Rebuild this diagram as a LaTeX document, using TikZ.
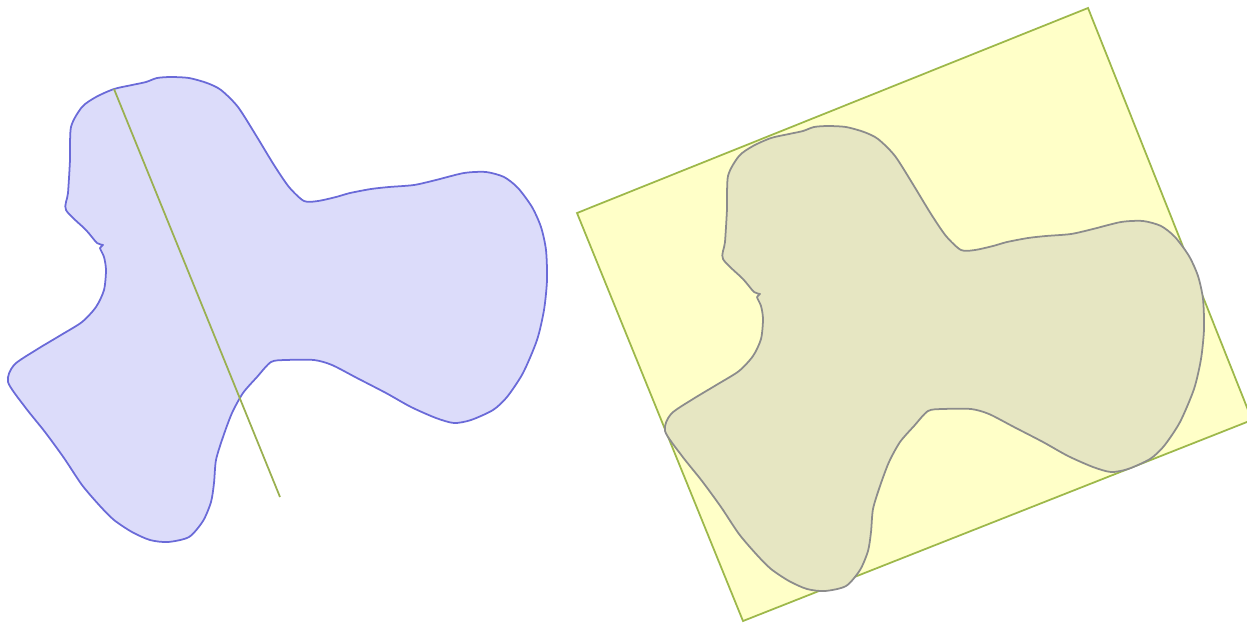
\documentclass[tikz,border=0pt]{standalone}
\definecolor{blobfillA}{HTML}{DCDCFA}
\definecolor{blobdrawA}{HTML}{6A6AD8}
\definecolor{rectfill}{HTML}{FFFFC8}
\definecolor{rectdraw}{HTML}{9DB84A}
\definecolor{blobfillB}{HTML}{E6E6C2}
\definecolor{blobdrawB}{HTML}{8C8C8C}
\definecolor{axisline}{HTML}{9AB050}
\tikzset{
  blobA/.style={fill=blobfillA, draw=blobdrawA, line width=1pt, line join=round},
  blobB/.style={fill=blobfillB, draw=blobdrawB, line width=1pt, line join=round},
  boxstyle/.style={fill=rectfill, draw=rectdraw, line width=1pt, line join=miter},
  axisstyle/.style={draw=axisline, line width=1pt}
}
\newcommand{\drawblob}[1]{%
  \path[#1] plot[smooth cycle, tension=0.45] coordinates {
    (114,89) (132,85) (146,82) (157,78) (171,77) (189,78) (207,83) (221,90)
    (238,107) (257,137) (274,165) (289,187) (304,201) (318,201)
    (336,197) (350,193) (371,189) (389,187) (414,185) (436,180) (464,173)
    (486,172) (504,177) (518,188) (532,207) (541,227) (546,250) (547,280)
    (544,310) (537,340) (523,373) (507,397) (493,410) (471,420)
    (454,423) (436,418) (411,407) (386,393) (357,378) (332,365) (314,360)
    (286,360) (271,362) (257,377) (243,393) (232,413) (223,437) (216,460)
    (214,483) (211,502) (203,521) (189,537) (168,542) (150,540) (132,532)
    (114,520) (100,506) (82,485) (64,458) (45,432) (25,407) (8,382)
    (14,365) (36,350) (61,335) (82,322) (96,307) (104,290) (106,270)
    (104,257) (100,248) (103,245) (97,243) (86,230) (66,210) (68,193)
    (70,160) (71,127) (82,107) (96,97)
  };}
\begin{document}
\begin{tikzpicture}[x=0.02cm, y=-0.02cm]
  \useasboundingbox (0,0) rectangle (1247,623);
  \clip (0,0) rectangle (1247,623);
  % left shape and its axis
  \drawblob{blobA}
  \coordinate (axtop) at (114,89);
  \coordinate (axbot) at (280,497);
  \draw[axisstyle] (axtop) -- (axbot);
  % right: oriented bounding box and shifted shape
  \coordinate (bTL) at (577,213);
  \coordinate (bTR) at (1088,8);
  \coordinate (bBR) at (1252,420);
  \coordinate (bBL) at (743,621);
  \draw[boxstyle] (bTL) -- (bTR) -- (bBR) -- (bBL) -- cycle;
  \drawblob{blobB, shift={(657,49)}}
\end{tikzpicture}
\end{document}
